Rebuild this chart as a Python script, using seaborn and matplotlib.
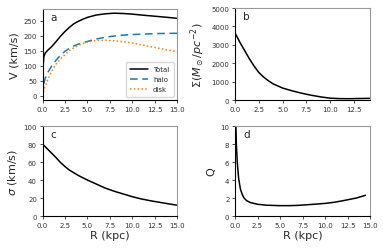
import numpy as np
import pandas as pd
import matplotlib
matplotlib.use("Agg")
import matplotlib.pyplot as plt
import seaborn as sns

# Panel a: rotation curves
r_rot = [0.0, 0.05, 0.15, 0.3, 0.6, 1.0, 1.5, 2.0, 2.5, 3.0, 3.5, 4.0, 4.5, 5.0, 6.0, 7.0, 8.0, 9.0, 10.0, 11.0, 12.5, 14.0, 15.0]
v_total = [0, 90, 130, 142, 152, 163, 180, 198, 214, 228, 240, 248, 255, 261, 269, 273, 275, 274, 272, 269, 265, 261, 258]
v_halo = [0, 15, 40, 58, 78, 98, 118, 135, 148, 158, 166, 172, 177, 181, 189, 195, 199, 202, 204, 205, 207, 208, 208]
v_disk = [0, 5, 18, 32, 55, 80, 105, 123, 137, 150, 160, 168, 174, 179, 184, 185, 183, 180, 176, 170, 161, 152, 147]

# Panel b: surface density
r_sig = [0.0, 0.5, 1.0, 1.5, 2.0, 2.5, 3.0, 3.5, 4.0, 5.0, 6.0, 7.0, 8.0, 9.0, 10.0, 11.0, 12.0, 13.0, 14.2]
surf = [3650, 3150, 2700, 2250, 1850, 1500, 1250, 1050, 880, 650, 500, 370, 260, 170, 100, 75, 70, 80, 90]

# Panel c: velocity dispersion
r_disp = [0.0, 0.5, 1.0, 1.5, 2.0, 2.5, 3.0, 4.0, 5.0, 6.0, 7.0, 8.0, 9.0, 10.0, 11.0, 12.0, 13.0, 14.0, 15.0]
disp = [80, 75, 70, 65, 59.5, 55, 51, 45, 40, 35.5, 31, 27.5, 24.5, 21.5, 19, 17, 15.3, 13.6, 12]

# Panel d: Toomre Q
r_q = [0.05, 0.1, 0.15, 0.25, 0.4, 0.6, 0.8, 1.0, 1.3, 1.7, 2.5, 3.5, 5.0, 6.0, 7.0, 8.0, 9.0, 10.0, 11.0, 12.0, 13.0, 13.5, 14.5]
q_vals = [14, 10, 8, 6, 4.2, 3.0, 2.4, 2.0, 1.7, 1.5, 1.3, 1.2, 1.15, 1.15, 1.18, 1.25, 1.32, 1.4, 1.52, 1.7, 1.9, 2.0, 2.3]

sns.set_theme(style="ticks")
plt.rcParams['font.family'] = ['DejaVu Sans']

W, H = 383, 253
fig = plt.figure(figsize=(W / 100, H / 100), dpi=100)

def ax_px(l, r, t, b):
    return fig.add_axes([l / W, 1 - b / H, (r - l) / W, (b - t) / H])

axa = ax_px(42.5, 177, 10, 101)
axb = ax_px(235, 370, 9, 101)
axc = ax_px(42.5, 177, 127, 217)
axd = ax_px(235, 370, 127, 217)

df_a = pd.DataFrame({"R": r_rot, "Total": v_total, "halo": v_halo, "disk": v_disk})
sns.lineplot(data=df_a, x="R", y="Total", ax=axa, color="black", lw=1.1, label="Total")
sns.lineplot(data=df_a, x="R", y="halo", ax=axa, color="#1f77b4", lw=1.1, ls=(0, (5, 3)), label="halo")
sns.lineplot(data=df_a, x="R", y="disk", ax=axa, color="#ff7f0e", lw=1.1, ls=(0, (1, 1.5)), label="disk")
axa.set_xlim(0, 15)
axa.set_ylim(-14, 289)
axa.set_yticks([0, 50, 100, 150, 200, 250])
axa.set_ylabel("V (km/s)")
axa.set_xlabel("")
leg = axa.legend(loc="lower right", fontsize=5, frameon=True, handlelength=2.5, borderpad=0.6, labelspacing=0.6)

df_b = pd.DataFrame({"R": r_sig, "S": surf})
sns.lineplot(data=df_b, x="R", y="S", ax=axb, color="black", lw=1.1)
axb.set_xlim(0, 14.2)
axb.set_ylim(0, 5000)
axb.set_ylabel(r"$\Sigma(M_\odot/pc^{-2})$")
axb.set_xlabel("")

df_c = pd.DataFrame({"R": r_disp, "s": disp})
sns.lineplot(data=df_c, x="R", y="s", ax=axc, color="black", lw=1.1)
axc.set_xlim(0, 15)
axc.set_ylim(0, 100)
axc.set_ylabel(r"$\sigma$ (km/s)")
axc.set_xlabel("R (kpc)")

df_d = pd.DataFrame({"R": r_q, "Q": q_vals})
sns.lineplot(data=df_d, x="R", y="Q", ax=axd, color="black", lw=1.1)
axd.set_xlim(0, 15)
axd.set_ylim(0, 10)
axd.set_ylabel("Q")
axd.set_xlabel("R (kpc)")

for ax, lab in zip([axa, axb, axc, axd], ["a", "b", "c", "d"]):
    ax.set_xticks([0, 2.5, 5, 7.5, 10, 12.5, 15] if ax is not axb else [0, 2.5, 5, 7.5, 10, 12.5])
    ax.tick_params(labelsize=5, length=2.5, width=0.6, pad=1.5, colors="#333333")
    ax.xaxis.label.set_size(8)
    ax.yaxis.label.set_size(8)
    ax.xaxis.labelpad = 2
    ax.yaxis.labelpad = 3
    for s in ["left", "bottom"]:
        ax.spines[s].set_color("black")
        ax.spines[s].set_linewidth(0.8)
    for s in ["top", "right"]:
        ax.spines[s].set_visible(True)
        ax.spines[s].set_color("#999999")
        ax.spines[s].set_linewidth(0.8)
    ax.text(0.06, 0.97, lab, transform=ax.transAxes, ha="left", va="top", fontsize=7.5)

fig.savefig("out.png", dpi=100)
